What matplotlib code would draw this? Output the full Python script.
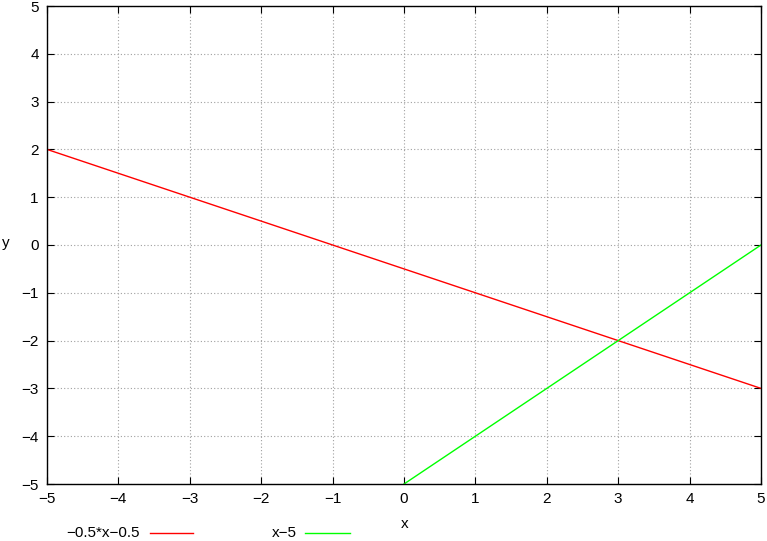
import matplotlib
matplotlib.use("Agg")
import matplotlib.pyplot as plt
from matplotlib.lines import Line2D

plt.rcParams['font.family'] = ['Liberation Sans', 'DejaVu Sans']

# data
red_x = [-5, 5]
red_y = [2, -3]
green_x = [0, 5]
green_y = [-5, 0]
ticks = [-5, -4, -3, -2, -1, 0, 1, 2, 3, 4, 5]
tick_labels = ['\u22125', '\u22124', '\u22123', '\u22122', '\u22121', '0', '1', '2', '3', '4', '5']
labels = ['\u22120.5*x\u22120.5', 'x\u22125']

W, H = 767, 541
fs = 11
fig = plt.figure(figsize=(W/100, H/100), dpi=100)
ax = fig.add_axes([47/W, (H-484)/H, (761-47)/W, (484-6)/H])

ax.plot(red_x, red_y, color='#ff0000', lw=1.0, clip_on=True)
ax.plot(green_x, green_y, color='#00ff00', lw=1.0, clip_on=True)

ax.set_xlim(-5, 5)
ax.set_ylim(-5, 5)
ax.set_xticks(ticks)
ax.set_xticklabels(tick_labels)
ax.set_yticks(ticks)
ax.set_yticklabels(tick_labels)
ax.tick_params(direction='in', length=5, width=0.8, top=True, right=True,
               labelsize=fs, pad=6, colors='black')
ax.grid(True, color='#a0a0a0', linestyle=(0, (1, 2)), linewidth=0.8)
for s in ax.spines.values():
    s.set_linewidth(1.0)
    s.set_color('black')

fig.text(405/W, 1-524/H, 'x', ha='center', va='center', fontsize=fs)
fig.text(6/W, 1-243/H, 'y', ha='center', va='center', fontsize=fs)

# legend below
fig.text(140/W, 1-533/H, labels[0], ha='right', va='center', fontsize=fs)
fig.add_artist(Line2D([150/W, 193/W], [1-533/H, 1-533/H], color='#ff0000', lw=1.0, transform=fig.transFigure))
fig.text(297/W, 1-533/H, labels[1], ha='right', va='center', fontsize=fs)
fig.add_artist(Line2D([305/W, 350/W], [1-533/H, 1-533/H], color='#00ff00', lw=1.0, transform=fig.transFigure))

fig.savefig('out.png', dpi=100)
